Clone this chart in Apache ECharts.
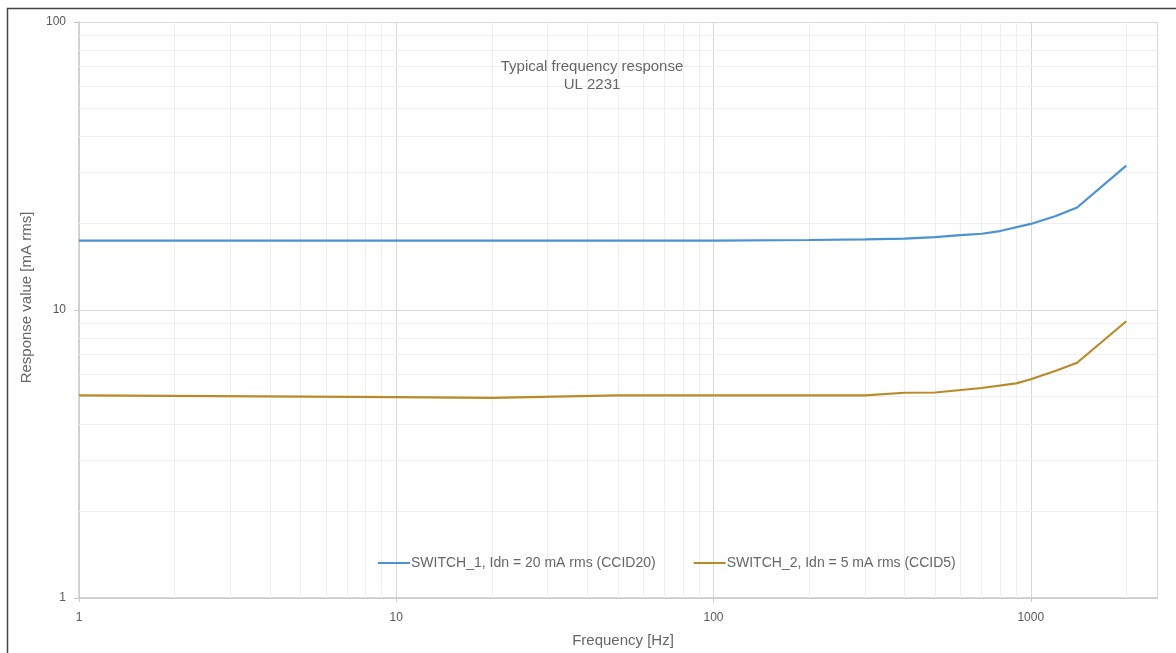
<!DOCTYPE html>
<html><head><meta charset="utf-8">
<script src="https://cdn.jsdelivr.net/npm/echarts@6/dist/echarts.min.js"></script>
<style>html,body{margin:0;padding:0;background:#fff}#c{width:1176px;height:653px}</style>
</head><body><div id="c"></div>
<script>
const freq1 = [1, 10, 100, 200, 300, 400, 500, 600, 700, 800, 1000, 1200, 1400, 2000];
const switch1 = [17.4, 17.4, 17.4, 17.5, 17.6, 17.7, 17.9, 18.2, 18.4, 18.8, 19.9, 21.2, 22.7, 31.7];
const freq2 = [1, 10, 20, 50, 100, 200, 300, 400, 500, 700, 900, 1000, 1200, 1400, 2000];
const switch2 = [5.05, 4.98, 4.95, 5.05, 5.05, 5.05, 5.05, 5.16, 5.17, 5.36, 5.56, 5.75, 6.15, 6.56, 9.14];
const xMinorGrid = [2,3,4,5,6,7,8,9,20,30,40,50,60,70,80,90,200,300,400,500,600,700,800,900,2000];
const yMinorGrid = [2,3,4,5,6,7,8,9,20,30,40,50,60,70,80,90];
const seriesNames = ['SWITCH_1, Idn = 20 mA rms (CCID20)', 'SWITCH_2, Idn = 5 mA rms (CCID5)'];
const titleLines = ['Typical frequency response', 'UL 2231'];

const chart = echarts.init(document.getElementById('c'));
const minorLine = {color: '#efefef', width: 1, type: 'solid'};
const FF = 'Liberation Sans, Arial';
chart.setOption({
  animation: false,
  backgroundColor: '#fff',
  title: {
    text: titleLines.join('\n'), left: 587, top: 53, textAlign: 'center',
    textStyle: {color: '#666', fontSize: 15, fontWeight: 'normal', fontFamily: FF, lineHeight: 18}
  },
  legend: {
    top: 551, left: 373, itemWidth: 32, itemHeight: 2, itemGap: 38,
    icon: 'rect',
    textStyle: {color: '#666', fontSize: 14, fontFamily: FF, padding: [0,0,0,-4]},
    data: seriesNames
  },
  graphic: [{type: 'rect', left: 5, top: 6, shape: {width: 1200, height: 700}, style: {fill: 'none', stroke: '#444', lineWidth: 1.5}, silent: true}],
  grid: {left: 79, right: 19, top: 22, bottom: 51},
  xAxis: {
    type: 'log', logBase: 10, min: 1, max: 2500,
    name: 'Frequency [Hz]', nameLocation: 'middle', nameGap: 35,
    nameTextStyle: {color: '#666', fontSize: 15, fontFamily: FF, padding: [0,0,0,10]},
    axisLine: {lineStyle: {color: '#c8c8c8', width: 1.5}},
    axisTick: {show: true, length: 4, lineStyle: {color: '#c8c8c8'}},
    axisLabel: {color: '#595959', fontSize: 12, margin: 14, fontFamily: FF, showMaxLabel: false,
      formatter: v => ([1,10,100,1000].indexOf(Math.round(v)) >= 0 ? String(Math.round(v)) : '')},
    splitLine: {show: true, lineStyle: {color: '#d9d9d9', width: 1}}
  },
  yAxis: {
    type: 'log', logBase: 10, min: 1, max: 100,
    name: 'Response value [mA rms]', nameLocation: 'middle', nameGap: 45,
    nameTextStyle: {color: '#666', fontSize: 15, fontFamily: FF, padding: [0,0,0,25]},
    axisLine: {show: true, lineStyle: {color: '#c8c8c8', width: 1.5}},
    axisTick: {show: true, length: 5, lineStyle: {color: '#c8c8c8'}},
    axisLabel: {color: '#595959', fontSize: 12, margin: 13, fontFamily: FF},
    splitLine: {show: true, lineStyle: {color: '#d9d9d9', width: 1}}
  },
  series: [
    {
      name: seriesNames[0], type: 'line', showSymbol: false, symbol: 'none',
      data: freq1.map((f, i) => [f, switch1[i]]),
      lineStyle: {color: '#4a92d0', width: 2.2}, itemStyle: {color: '#4a92d0'}, z: 5,
      markLine: {
        silent: true, symbol: 'none', label: {show: false}, lineStyle: minorLine, animation: false, z: 1,
        data: xMinorGrid.map(v => ({xAxis: v})).concat(yMinorGrid.map(v => ({yAxis: v})))
      }
    },
    {
      name: seriesNames[1], type: 'line', showSymbol: false, symbol: 'none',
      data: freq2.map((f, i) => [f, switch2[i]]),
      lineStyle: {color: '#b98b28', width: 2.2}, itemStyle: {color: '#b98b28'}, z: 5
    }
  ]
});
</script></body></html>
